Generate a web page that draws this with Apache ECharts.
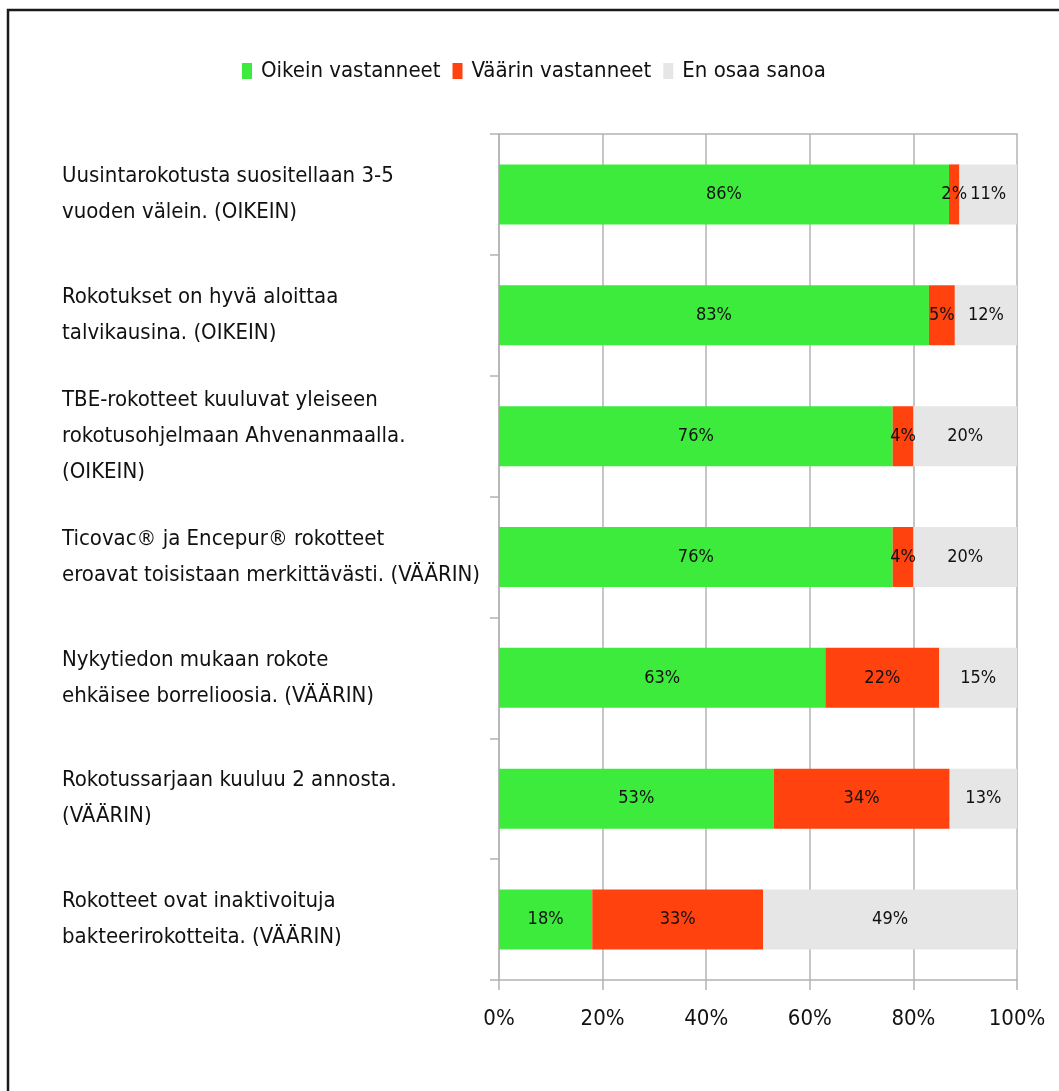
<!DOCTYPE html>
<html>
<head>
<meta charset="utf-8">
<script src="https://cdn.jsdelivr.net/npm/echarts@6/dist/echarts.min.js"></script>
<style>
html,body{margin:0;padding:0;background:#fff;}
#chart{width:1059px;height:1091px;}
</style>
</head>
<body>
<div id="chart"></div>
<script>
const categories = [
  "Uusintarokotusta suositellaan 3-5\nvuoden välein. (OIKEIN)",
  "Rokotukset on hyvä aloittaa\ntalvikausina. (OIKEIN)",
  "TBE-rokotteet kuuluvat yleiseen\nrokotusohjelmaan Ahvenanmaalla.\n(OIKEIN)",
  "Ticovac® ja Encepur® rokotteet\neroavat toisistaan merkittävästi. (VÄÄRIN)",
  "Nykytiedon mukaan rokote\nehkäisee borrelioosia. (VÄÄRIN)",
  "Rokotussarjaan kuuluu 2 annosta.\n(VÄÄRIN)",
  "Rokotteet ovat inaktivoituja\nbakteerirokotteita. (VÄÄRIN)"
];
const seriesNames = ["Oikein vastanneet", "Väärin vastanneet", "En osaa sanoa"];
const oikein = [86, 83, 76, 76, 63, 53, 18];
const vaarin = [2, 5, 4, 4, 22, 34, 33];
const eos = [11, 12, 20, 20, 15, 13, 49];
const xTicks = ["0%", "20%", "40%", "60%", "80%", "100%"];

const FONT = "'Liberation Sans Narrow', 'DejaVu Sans Condensed', 'Liberation Sans', sans-serif";
const raw = [oikein, vaarin, eos];
const totals = oikein.map((v, i) => v + vaarin[i] + eos[i]);
const colors = ['#3DEB3D', '#FF420E', '#E6E6E6'];

const chart = echarts.init(document.getElementById('chart'), null, {renderer: 'canvas'});

const series = raw.map((arr, si) => ({
  name: seriesNames[si],
  type: 'bar',
  stack: 'total',
  barWidth: 60,
  itemStyle: {color: colors[si]},
  label: {
    show: true,
    position: 'inside',
    color: '#111',
    fontFamily: FONT,
    fontSize: 18,
    formatter: p => raw[si][p.dataIndex] + '%'
  },
  data: arr.map((v, i) => v / totals[i] * 100)
}));

chart.setOption({
  animation: false,
  textStyle: {fontFamily: FONT},
  graphic: [{
    type: 'rect',
    shape: {x: 8, y: 10, width: 1200, height: 1200},
    style: {fill: 'none', stroke: '#1a1a1a', lineWidth: 2.5},
    silent: true
  }],
  legend: {
    top: 55,
    left: 237,
    itemWidth: 10,
    itemHeight: 16,
    itemGap: 12,
    icon: 'rect',
    textStyle: {fontFamily: FONT, fontSize: 22, color: '#111', padding: [0, 0, 0, 4]},
    data: seriesNames
  },
  grid: {left: 499, right: 42, top: 134, bottom: 111, containLabel: false},
  xAxis: [{
    type: 'value',
    min: 0, max: 100, interval: 20,
    position: 'bottom',
    axisLine: {show: true, lineStyle: {color: '#b3b3b3', width: 1.5}},
    axisTick: {show: true, length: 10, lineStyle: {color: '#b3b3b3', width: 1.5}},
    splitLine: {show: true, lineStyle: {color: '#b3b3b3', width: 1.5}},
    axisLabel: {
      margin: 28,
      fontFamily: FONT, fontSize: 22, color: '#111',
      formatter: v => xTicks[Math.round(v / 20)]
    }
  }, {
    type: 'value',
    min: 0, max: 100, interval: 20,
    position: 'top',
    axisLine: {show: true, lineStyle: {color: '#b3b3b3', width: 1.5}},
    axisTick: {show: false},
    splitLine: {show: false},
    axisLabel: {show: false}
  }],
  yAxis: {
    type: 'category',
    inverse: true,
    data: categories,
    axisLine: {show: true, lineStyle: {color: '#b3b3b3', width: 1.5}},
    axisTick: {show: true, length: 9, lineStyle: {color: '#b3b3b3', width: 1.5}},
    axisLabel: {
      align: 'left',
      margin: 437,
      fontFamily: FONT,
      fontSize: 22,
      lineHeight: 36,
      color: '#111'
    }
  },
  series: series
});
</script>
</body>
</html>
